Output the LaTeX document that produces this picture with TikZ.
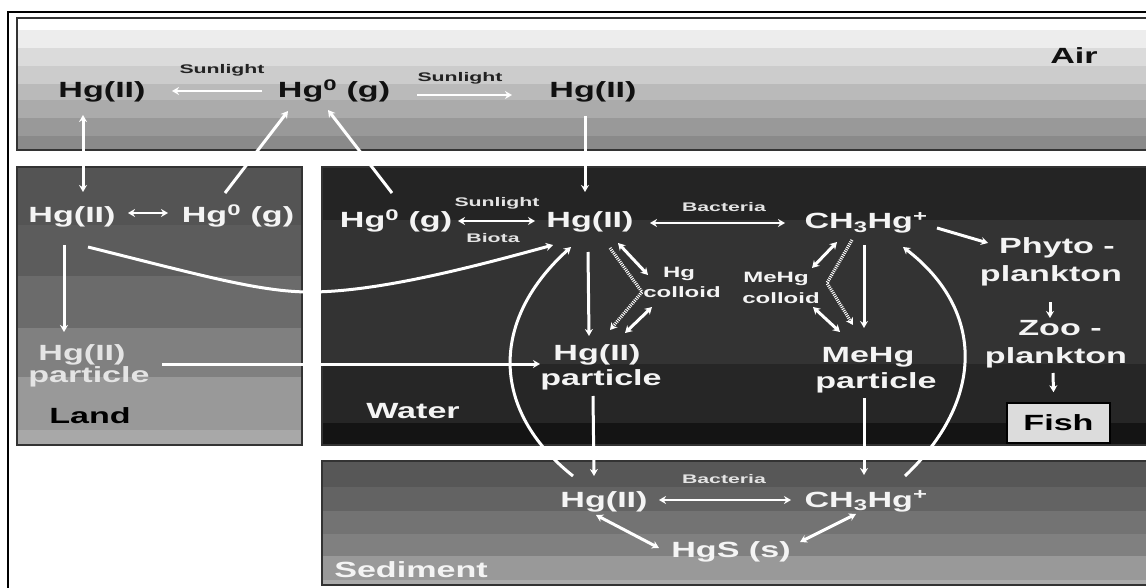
\documentclass[tikz,border=0pt]{standalone}
\usepackage{fontspec}
\usetikzlibrary{arrows.meta,calc}
\newfontfamily\bigsans[FakeStretch=1.55]{Liberation Sans}
\newfontfamily\midsans[FakeStretch=1.6]{Liberation Sans}
\newfontfamily\smallsans[FakeStretch=1.7]{Liberation Sans}
\definecolor{txt}{HTML}{111111}
\definecolor{txtS}{HTML}{222222}
\definecolor{paleT}{HTML}{E4E4E4}
\definecolor{softW}{HTML}{F4F4F4}
\definecolor{fishbg}{HTML}{DCDCDC}
\begin{document}
\begin{tikzpicture}[x=1pt,y=-1pt,
  lbl/.style={inner sep=0pt, anchor=base, font=\bigsans\bfseries\fontsize{22}{23}\selectfont},
  midlbl/.style={inner sep=0pt, anchor=base, font=\midsans\bfseries\fontsize{15}{16}\selectfont},
  tiny/.style={inner sep=0pt, anchor=base, font=\smallsans\bfseries\fontsize{12.5}{13}\selectfont},
  tip/.tip={Stealth[length=7pt,width=8pt]},
  flow/.style={draw=white, line width=3pt, -tip},
  both/.style={draw=white, line width=3pt, tip-tip},
  thinflow/.style={draw=white, line width=2.2pt, -tip},
  thinboth/.style={draw=white, line width=2.2pt, tip-tip},
  hatch/.style={draw=white, line width=3.2pt, dash pattern=on 1pt off 1.1pt, -tip},
  panel/.style={draw=black!80, line width=1.5pt}
]
\useasboundingbox (0,0) rectangle (1146,588);
\fill[white] (0,0) rectangle (1146,588);
\clip (0,0) rectangle (1146,588);

% ---------- Air compartment ----------
\fill[white]      (17,18)  rectangle (1150,30);
\fill[black!7]    (17,30)  rectangle (1150,48);
\fill[black!14]   (17,48)  rectangle (1150,66);
\fill[black!20]   (17,66)  rectangle (1150,84);
\fill[black!27]   (17,84)  rectangle (1150,100);
\fill[black!33]   (17,100) rectangle (1150,118);
\fill[black!40]   (17,118) rectangle (1150,136);
\fill[black!46]   (17,136) rectangle (1150,150);
\draw[panel] (17,18) rectangle (1150,150);

% ---------- Land compartment ----------
\fill[black!67] (17,167) rectangle (302,225);
\fill[black!64] (17,225) rectangle (302,276);
\fill[black!58] (17,276) rectangle (302,328);
\fill[black!50] (17,328) rectangle (302,377);
\fill[black!40] (17,377) rectangle (302,430);
\fill[black!34] (17,430) rectangle (302,445);
\draw[panel] (17,167) rectangle (302,445);

% ---------- Water compartment ----------
\fill[black!86] (322,167) rectangle (1150,220);
\fill[black!80] (322,220) rectangle (1150,364);
\fill[black!85] (322,364) rectangle (1150,423);
\fill[black!92] (322,423) rectangle (1150,445);
\draw[panel] (322,167) rectangle (1150,445);

% ---------- Sediment compartment ----------
\fill[black!66] (322,461) rectangle (1150,487);
\fill[black!61] (322,487) rectangle (1150,511);
\fill[black!55] (322,511) rectangle (1150,534);
\fill[black!50] (322,534) rectangle (1150,556);
\fill[black!40] (322,556) rectangle (1150,580);
\fill[black!33] (322,580) rectangle (1150,585);
\draw[panel] (322,461) rectangle (1150,585);

% outer frame
\draw[black, line width=2pt] (8,590) -- (8,12) -- (1150,12);

% ---------- Labels: air ----------
\node[lbl,text=txt] (aL) at (102,98) {Hg(II)};
\node[tiny,text=txtS] (sunL) at (222,74) {Sunlight};
\node[lbl,text=txt] (aG) at (334,98) {Hg\textsuperscript{0} (g)};
\node[tiny,text=txtS] (sunR) at (460,82) {Sunlight};
\node[lbl,text=txt] (aR) at (593,98) {Hg(II)};
\node[lbl,text=txt] (air) at (1074,64) {Air};

% ---------- Labels: land ----------
\node[lbl,text=softW] (lH) at (72,223) {Hg(II)};
\node[lbl,text=softW] (lG) at (238,223) {Hg\textsuperscript{0} (g)};
\node[lbl,text=paleT] (lP1) at (82,360) {Hg(II)};
\node[lbl,text=paleT] (lP2) at (89,382) {particle};
\node[lbl,text=black] (land) at (90,423) {Land};

% ---------- Labels: water ----------
\node[lbl,text=softW] (wG) at (396,228) {Hg\textsuperscript{0} (g)};
\node[tiny,text=paleT] (sunW) at (497,207) {Sunlight};
\node[tiny,text=paleT] (biota) at (493,243) {Biota};
\node[lbl,text=softW] (wH) at (590,228) {Hg(II)};
\node[tiny,text=paleT] (bact) at (724,212) {Bacteria};
\node[lbl,text=softW] (wC) at (866,229) {CH\textsubscript{3}Hg\textsuperscript{+}};
\node[lbl,text=softW] (ph1) at (1057,254) {Phyto -};
\node[lbl,text=softW] (ph2) at (1051,281) {plankton};
\node[lbl,text=softW] (zo1) at (1060,335) {Zoo -};
\node[lbl,text=softW] (zo2) at (1056,363) {plankton};
\node[lbl,anchor=center,text=black,fill=fishbg,draw=black,line width=1.5pt,
      minimum width=103pt,minimum height=40pt] (fish) at (1058.5,423) {Fish};
\node[midlbl,text=softW] (hc1) at (679,277) {Hg};
\node[midlbl,text=softW] (hc2) at (682,297) {colloid};
\node[midlbl,text=softW] (mc1) at (776,283) {MeHg};
\node[midlbl,text=softW] (mc2) at (781,303) {colloid};
\node[lbl,text=softW] (wP1) at (597,360) {Hg(II)};
\node[lbl,text=softW] (wP2) at (601,385) {particle};
\node[lbl,text=softW] (wM1) at (868,362) {MeHg};
\node[lbl,text=softW] (wM2) at (876,388) {particle};
\node[lbl,text=softW] (water) at (413,418) {Water};

% ---------- Labels: sediment ----------
\node[lbl,text=softW] (sH) at (604,507) {Hg(II)};
\node[tiny,text=paleT] (bactS) at (724,483) {Bacteria};
\node[lbl,text=softW] (sC) at (866,507) {CH\textsubscript{3}Hg\textsuperscript{+}};
\node[lbl,text=softW] (hgs) at (731,557) {HgS (s)};
\node[lbl,text=softW] (sed) at (411,577) {Sediment};

% ---------- Exchanges in the air ----------
\draw[thinflow] ($(aG.base)+(-72,-7)$) -- ($(aL.base)+(70,-7)$);
\draw[thinflow] ($(aG.base)+(83,-3)$) -- ($(aR.base)+(-81,-3)$);

% ---------- Air <-> surface ----------
\draw[both] ($(aL.base)+(-19,17)$) -- ($(lH.base)+(11,-31)$);
\draw[flow] ($(lG.base)+(-13,-30)$) -- ($(aG.base)+(-46,13)$);
\draw[flow] ($(wG.base)+(-4,-35)$) -- ($(aG.base)+(-6,12)$);
\draw[flow] ($(aR.base)+(-8,18)$) -- ($(wH.base)+(-5,-36)$);

% ---------- Land ----------
\draw[thinboth] ($(lH.base)+(56,-10)$) -- ($(lG.base)+(-70,-10)$);
\draw[flow] ($(lH.base)+(-8,22)$) -- ($(lP1.base)+(-18,-28)$);
\draw[flow] ($(lH.base)+(16,24)$) .. controls (200,275) and (260,292) .. (310,292)
            .. controls (380,292) and (480,265) .. ($(wH.base)+(-37,17)$);
\draw[flow] ($(lP1.base)+(80,4)$) -- ($(wP1.base)+(-57,4)$);

% ---------- Water column ----------
\draw[thinboth] ($(wG.base)+(62,-7)$) -- ($(wH.base)+(-55,-7)$);
\draw[thinboth] ($(wH.base)+(60,-5)$) -- ($(wC.base)+(-81,-6)$);
\draw[flow] ($(wC.base)+(71,-1)$) -- ($(ph1.base)+(-69,-11)$);
\draw[flow] ($(ph2.base)+(-1,21)$) -- ($(zo1.base)+(-10,-17)$);
\draw[flow] ($(zo2.base)+(-3,10)$) -- ($(fish.north)+(-5,-10)$);

\draw[flow] ($(wH.base)+(-2,24)$) -- ($(wP1.base)+(-8,-24)$);
\draw[both] ($(wH.base)+(28,15)$) -- ($(hc2.base)+(-34,-22)$);
\draw[both] ($(hc2.base)+(-30,10)$) -- ($(wP1.base)+(28,-27)$);
\draw[hatch] ($(wH.base)+(20,20)$) -- ($(hc2.base)+(-40,-5)$) -- ($(wP1.base)+(13,-30)$);

\draw[both] ($(wC.base)+(-29,13)$) -- ($(mc1.base)+(36,-15)$);
\draw[hatch] ($(wC.base)+(-14,11)$) -- ($(mc1.base)+(51,0)$) -- ($(wM1.base)+(-15,-37)$);
\draw[flow] ($(wC.base)+(-2,16)$) -- ($(wM1.base)+(-4,-34)$);
\draw[both] ($(mc2.base)+(32,4)$) -- ($(wM1.base)+(-28,-30)$);

% ---------- Water <-> sediment ----------
\draw[flow] ($(wP2.base)+(-8,11)$) -- ($(sH.base)+(-10,-31)$);
\draw[flow] ($(wM2.base)+(-12,10)$) -- ($(sC.base)+(-2,-32)$);
\draw[flow] ($(sH.base)+(-31,-31)$) .. controls (490,410) and (490,320) .. ($(wH.base)+(-19,19)$);
\draw[flow] ($(sC.base)+(39,-31)$) .. controls (985,400) and (985,310) .. ($(wC.base)+(37,18)$);

% ---------- Sediment ----------
\draw[thinboth] ($(sH.base)+(55,-7)$) -- ($(sC.base)+(-75,-7)$);
\draw[both] ($(sH.base)+(-8,8)$) -- ($(hgs.base)+(-72,-9)$);
\draw[both] ($(sC.base)+(-10,7)$) -- ($(hgs.base)+(69,-15)$);
\end{tikzpicture}
\end{document}
